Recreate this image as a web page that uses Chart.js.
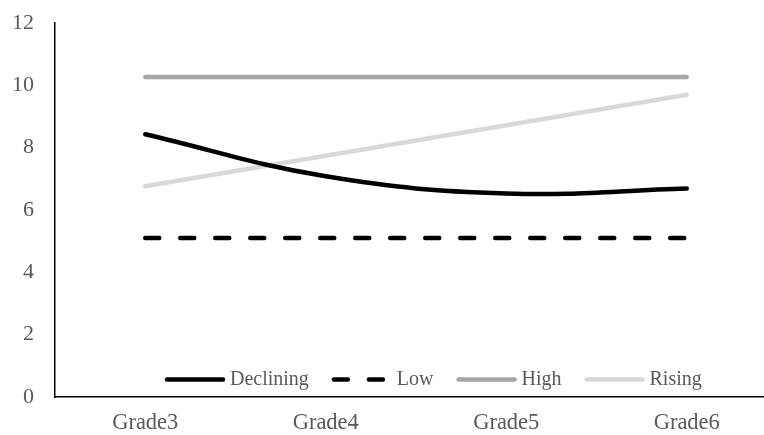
<!DOCTYPE html>
<html>
<head>
<meta charset="utf-8">
<script src="https://cdn.jsdelivr.net/npm/chart.js@4"></script>
<style>
  html, body { margin: 0; padding: 0; background: #fff; overflow: hidden; }
  #frame { width: 764px; height: 435px; overflow: hidden; }
  #box { width: 777px; height: 435px; }
</style>
</head>
<body>
<div id="frame"><div id="box"><canvas id="chart"></canvas></div></div>
<script>
// Data
const grades = ["Grade3", "Grade4", "Grade5", "Grade6"];
const declining = [8.43, 7.08, 6.53, 6.69];
const low = [5.1, 5.1, 5.1, 5.1];
const high = [10.27, 10.27, 10.27, 10.27];
const rising = [6.76, 7.74, 8.72, 9.70];
const yTicks = [0, 2, 4, 6, 8, 10, 12];

const serif = "'Liberation Serif', 'Times New Roman', serif";

// legend drawn inside the plot, near the bottom
const innerLegend = {
    id: "innerLegend",
    afterDraw(chart) {
        const ctx = chart.ctx;
        const area = chart.chartArea;
        let x = area.left + 110;
        const y = area.bottom - 17.5;
        ctx.save();
        ctx.font = "20px " + serif;
        ctx.textBaseline = "middle";
        chart.data.datasets.forEach(ds => {
            ctx.beginPath();
            ctx.strokeStyle = ds.borderColor;
            ctx.lineWidth = ds.borderWidth;
            ctx.lineCap = "round";
            ctx.setLineDash(ds.borderDash || []);
            ctx.moveTo(x + 2, y);
            ctx.lineTo(x + 58, y);
            ctx.stroke();
            ctx.setLineDash([]);
            ctx.fillStyle = "#595959";
            ctx.fillText(ds.label, x + 65, y);
            x += 65 + ctx.measureText(ds.label).width + 23;
        });
        ctx.restore();
    }
};

new Chart(document.getElementById("chart"), {
    type: "line",
    data: {
        labels: grades,
        datasets: [
            { label: "Declining", data: declining, borderColor: "#000000", borderWidth: 4.5, tension: 0.4, borderCapStyle: "round" },
            { label: "Low", data: low, borderColor: "#000000", borderWidth: 4.5, borderDash: [14, 21], borderCapStyle: "round" },
            { label: "High", data: high, borderColor: "#A5A5A5", borderWidth: 4.5, borderCapStyle: "round" },
            { label: "Rising", data: rising, borderColor: "#D9D9D9", borderWidth: 4.5, borderCapStyle: "round" },
        ],
    },
    options: {
        responsive: true,
        maintainAspectRatio: false,
        animation: false,
        layout: { padding: { left: 13, top: 23, right: 0, bottom: 0 } },
        elements: { point: { radius: 0, hoverRadius: 0 } },
        plugins: { legend: { display: false }, tooltip: { enabled: false } },
        scales: {
            x: {
                offset: true,
                grid: { display: false, drawTicks: false },
                border: { display: true, color: "#000000", width: 1.5 },
                ticks: { color: "#595959", font: { family: serif, size: 22.5, lineHeight: 1 }, padding: 15 },
                afterFit: axis => { axis.height = 38; },
            },
            y: {
                min: 0,
                max: 12,
                afterBuildTicks: axis => { axis.ticks = yTicks.map(v => ({ value: v })); },
                grid: { display: false, drawTicks: false },
                border: { display: true, color: "#000000", width: 1.5 },
                ticks: { color: "#595959", font: { family: serif, size: 22, lineHeight: 1 }, padding: 21 },
                afterFit: axis => { axis.width = 42; axis.paddingTop = 0; axis.paddingBottom = 0; },
            },
        },
    },
    plugins: [innerLegend],
});
</script>
</body>
</html>
